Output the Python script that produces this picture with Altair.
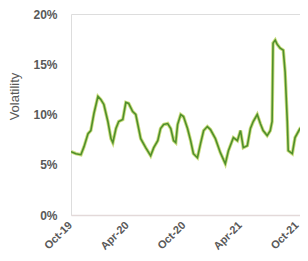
import altair as alt
import pandas as pd

dates = [
    "2019-10-01", "2019-10-17", "2019-11-02", "2019-11-12", "2019-11-25", "2019-12-04",
    "2019-12-14", "2019-12-27", "2020-01-05", "2020-01-15", "2020-01-28", "2020-02-07",
    "2020-02-13", "2020-02-23", "2020-03-03", "2020-03-16", "2020-03-26", "2020-04-04",
    "2020-04-17", "2020-04-27", "2020-05-13", "2020-05-29", "2020-06-14", "2020-06-24",
    "2020-07-07", "2020-07-16", "2020-07-26", "2020-08-08", "2020-08-18", "2020-08-27",
    "2020-09-03", "2020-09-09", "2020-09-19", "2020-09-28", "2020-10-11", "2020-10-21",
    "2020-10-30", "2020-11-12", "2020-11-22", "2020-12-02", "2020-12-14", "2020-12-24",
    "2021-01-09", "2021-01-25", "2021-02-10", "2021-02-20", "2021-03-08", "2021-03-21",
    "2021-03-31", "2021-04-09", "2021-04-22", "2021-05-02", "2021-05-11", "2021-05-24",
    "2021-06-03", "2021-06-12", "2021-06-25", "2021-07-05", "2021-07-11", "2021-07-14",
    "2021-07-21", "2021-07-27", "2021-08-06", "2021-08-16", "2021-08-22", "2021-08-29",
    "2021-09-01", "2021-09-14", "2021-09-23", "2021-10-09", "2021-10-26", "2021-11-04",
]
volatility = [
    6.3, 6.1, 6.0, 6.8, 8.1, 8.4,
    10.1, 11.8, 11.5, 11.0, 9.3, 7.6,
    7.2, 8.6, 9.3, 9.5, 11.2, 11.1,
    10.3, 10.0, 7.6, 6.7, 5.9, 6.7,
    7.4, 8.6, 9.0, 9.1, 8.6, 7.4,
    7.2, 9.0, 10.0, 9.8, 8.6, 7.4,
    6.1, 5.7, 7.1, 8.4, 8.8, 8.5,
    7.6, 6.2, 5.1, 6.4, 7.7, 7.4,
    8.4, 6.7, 6.9, 8.6, 9.3, 10.0,
    9.1, 8.4, 7.9, 8.4, 9.3, 17.1,
    17.4, 17.0, 16.6, 16.4, 14.2, 9.3,
    6.4, 6.1, 7.7, 8.6, 9.1, 9.7,
]
y_ticks = [0, 5, 10, 15, 20]
x_ticks = ["2019-10-01", "2020-04-01", "2020-10-01", "2021-04-01", "2021-10-01"]
x_domain = ["2019-10-01", "2021-10-09"]

df = pd.DataFrame({"date": dates, "vol": [v / 100 for v in volatility]})

font = "Liberation Sans"
grey = "#595959"

x_enc = alt.X(
    "date:T",
    scale=alt.Scale(domain=x_domain),
    axis=alt.Axis(
        values=x_ticks, format="%b-%y", title=None, labelAngle=-45,
        labelAlign="right", labelBaseline="top", labelPadding=4, labelOffset=-5,
        ticks=False, grid=False, domainColor="#e3d9d9", domainWidth=1.5,
        labelFont=font, labelFontSize=11, labelFontWeight="bold", labelColor=grey,
        labelOverlap=False, labelBound=False,
    ),
)
y_enc = alt.Y(
    "vol:Q",
    scale=alt.Scale(domain=[0, 0.2]),
    axis=alt.Axis(
        values=[t / 100 for t in y_ticks], format=".0%", title="Volatility",
        ticks=False, grid=False, domain=False, labelPadding=14,
        labelFont=font, labelFontSize=12, labelFontWeight="bold", labelColor=grey,
        titleFont=font, titleFontSize=13, titleFontWeight="normal", titleColor=grey,
        titleX=-57, titleY=82, titleBaseline="middle",
    ),
)

under = alt.Chart(df).mark_line(color="#bcd35e", strokeWidth=3.4, opacity=0.8, clip=True).encode(x=x_enc, y=y_enc)
over = alt.Chart(df).mark_line(color="#4f8f2b", strokeWidth=1.6, clip=True).encode(x=x_enc, y=y_enc)

chart = (
    alt.layer(under, over)
    .properties(
        width=229, height=201,
        autosize=alt.AutoSizeParams(type="none"),
        padding={"left": 63, "top": 6, "right": 0, "bottom": 38},
    )
    .configure_view(stroke=None)
    .configure(background="white")
)

chart.save("out.html", embed_options={"renderer": "svg", "actions": False})
